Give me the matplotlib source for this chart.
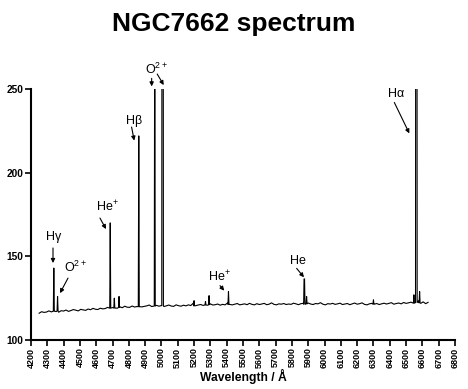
import numpy as np
import matplotlib
matplotlib.use("Agg")
import matplotlib.pyplot as plt

plt.rcParams['font.family'] = ['Liberation Sans', 'DejaVu Sans']
plt.rcParams['mathtext.fontset'] = 'custom'
plt.rcParams['mathtext.rm'] = 'Liberation Sans'
plt.rcParams['mathtext.default'] = 'regular'

# continuum samples (every 15 Å from 4250 Å)
base_start = 4250
base_step = 15
base_flux = [
    116.0, 116.9, 116.5, 116.7, 117.4, 116.8, 117.1, 117.0, 116.6, 117.5,
    117.3, 117.9, 117.1, 117.6, 118.2, 117.8, 117.4, 118.3, 118.0, 117.7,
    118.5, 118.1, 118.9, 118.4, 118.2, 119.0, 118.6, 118.8, 119.5, 118.9,
    119.4, 119.2, 119.0, 119.8, 119.3, 120.2, 119.6, 119.5, 120.3, 119.7,
    120.0, 120.6, 119.8, 120.1, 120.4, 120.9, 120.0, 119.9, 120.7, 120.2,
    120.6, 120.0, 120.4, 120.9, 120.3, 120.1, 121.0, 120.5, 120.2, 120.8,
    120.4, 121.0, 120.6, 122.0, 120.5, 120.9, 121.2, 120.7, 121.4, 120.8,
    121.6, 120.9, 121.1, 121.5, 120.8, 121.3, 121.0, 122.1, 121.2, 121.0,
    121.4, 121.8, 121.0, 121.3, 121.6, 121.1, 121.9, 121.3, 121.0, 121.7,
    121.2, 121.5, 121.9, 121.1, 121.4, 122.2, 121.3, 121.0, 121.6, 121.4,
    121.8, 121.2, 121.5, 121.3, 122.0, 121.6, 121.1, 121.7, 121.9, 121.4,
    122.1, 121.5, 121.2, 121.8, 121.6, 122.3, 121.4, 121.0, 121.7, 121.5,
    121.9, 121.3, 121.6, 122.0, 121.2, 121.5, 121.8, 121.1, 121.6, 122.1,
    121.4, 121.7, 122.2, 121.3, 121.0, 121.6, 121.9, 121.4, 121.8, 121.2,
    121.6, 122.0, 121.5, 121.9, 122.3, 121.4, 121.8, 122.1, 121.6, 122.4,
    121.9, 122.2, 122.6, 123.2, 121.6, 123.4, 121.9, 122.8, 121.7, 122.5,
]

# emission lines: centre (Å), peak, local continuum, half-width (Å)
line_wl   = [4340, 4363, 4686, 4711, 4740, 4861, 4959, 5007, 5200, 5270, 5292, 5411, 5876, 5890, 6300, 6548, 6563, 6583]
line_peak = [143, 126, 170, 125, 126, 222, 320, 800, 123.5, 123.0, 126.5, 129, 136.5, 126, 124, 127, 900, 129]
line_base = [117.2, 117.3, 119.0, 119.1, 119.5, 119.9, 120.3, 120.5, 120.4, 120.9, 121.1, 121.3, 121.4, 121.6, 121.4, 122.0, 122.4, 122.2]
line_hw   = [3, 3, 3, 3, 3, 3, 3, 5, 3, 3, 3, 3, 4, 3, 3, 3, 5, 3]

label_text = ["H\u03b3", "O$^{2+}$", "He$^{+}$", "H\u03b2", "O$^{2+}$", "He$^{+}$", "He", "H\u03b1"]
label_xy   = [(4341, 161.6), (4476, 143.6), (4666, 179.5), (4835, 230.9), (4973, 262.0), (5353, 137.6), (5840, 147.2), (6438, 247.0)]
arrows = [  # (tail, head)
    ((4335, 155.0), (4335, 146.0)),
    ((4427, 137.0), (4378, 128.0)),
    ((4623, 172.9), (4660, 166.3)),
    ((4817, 227.3), (4833, 219.2)),
    ((4940, 256.4), (4940, 251.6)),
    ((4974, 259.0), (5014, 252.4)),
    ((5359, 132.5), (5385, 129.5)),
    ((5829, 142.8), (5874, 137.5)),
    ((6428, 242.0), (6520, 223.5)),
]

# build spectrum
bw = base_start + base_step * np.arange(len(base_flux))
bf = np.array(base_flux, dtype=float)
keep = np.ones(len(bw), bool)
for c, hw in zip(line_wl, line_hw):
    keep &= np.abs(bw - c) > hw + 1
wl = list(bw[keep]); fl = list(bf[keep])
for c, p, b, hw in zip(line_wl, line_peak, line_base, line_hw):
    if hw > 3:
        wl += [c - hw, c - 1.5, c + 1.5, c + hw]
        fl += [b, p, p, b]
    else:
        wl += [c - hw, c, c + hw]
        fl += [b, p, b]
order = np.argsort(wl)
wl = np.array(wl)[order]; fl = np.array(fl)[order]

fig = plt.figure(figsize=(4.68, 3.89), dpi=100)
ax = fig.add_axes([0.0662, 0.126, 0.906, 0.645])
ax.plot(wl, fl, color='black', lw=0.8)
ax.set_xlim(4200, 6800)
ax.set_ylim(100, 250)
ax.set_xticks(np.arange(4200, 6801, 100))
ax.set_yticks([100, 150, 200, 250])
for s in ['top', 'right']:
    ax.spines[s].set_visible(False)
for s in ['left', 'bottom']:
    ax.spines[s].set_linewidth(1.5)
ax.tick_params(axis='both', direction='out', length=4, width=1.2, pad=1.5)
ax.tick_params(axis='x', labelrotation=90, labelsize=6.5)
ax.tick_params(axis='y', labelsize=7.3)
for lab in ax.get_xticklabels() + ax.get_yticklabels():
    lab.set_fontweight('bold')
ax.set_xlabel("Wavelength / \u00c5", fontsize=8.7, fontweight='bold', labelpad=0.5)

for t, (x, y) in zip(label_text, label_xy):
    ax.text(x, y, t, fontsize=9, ha='center', va='center', clip_on=False)
for (tail, head) in arrows:
    ax.annotate("", xy=head, xytext=tail,
                arrowprops=dict(arrowstyle='-|>', lw=0.8, color='black', mutation_scale=6,
                                shrinkA=0, shrinkB=0), annotation_clip=False)

fig.suptitle("NGC7662 spectrum", fontsize=19, fontweight='bold', y=0.97)
fig.savefig("out.png", dpi=100)
